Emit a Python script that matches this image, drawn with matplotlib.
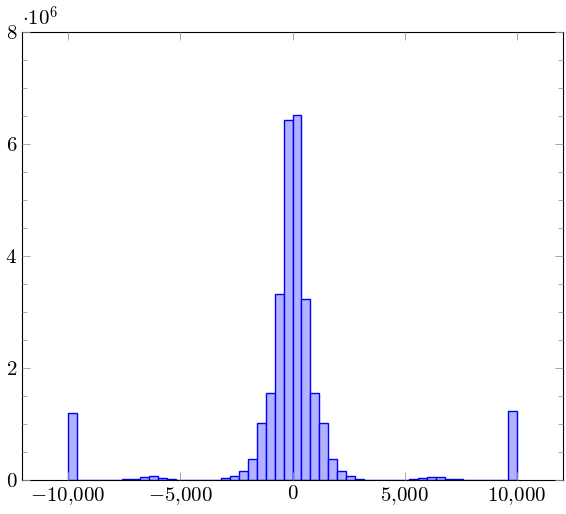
import numpy as np
import matplotlib
matplotlib.use("Agg")
import matplotlib.pyplot as plt
from matplotlib.ticker import MultipleLocator

plt.rcParams['mathtext.fontset'] = 'cm'
plt.rcParams['font.family'] = 'serif'
plt.rcParams['font.serif'] = ['cmr10', 'DejaVu Serif']

bin_edges = np.linspace(-10000, 10000, 51)
# counts in millions, one per bin (left to right)
counts = [1.19, 0, 0, 0, 0, 0, 0.02, 0.02, 0.05, 0.065,
          0.04, 0.025, 0.005, 0, 0, 0, 0.005, 0.03, 0.07, 0.16,
          0.37, 1.02, 1.55, 3.33, 6.43, 6.52, 3.24, 1.56, 1.02, 0.375,
          0.16, 0.075, 0.025, 0.005, 0, 0, 0, 0, 0.01, 0.03,
          0.06, 0.045, 0.025, 0.02, 0, 0, 0, 0, 0, 1.23]
xticks = [-10000, -5000, 0, 5000, 10000]
xlabels = [r'$-10{,}000$', r'$-5{,}000$', r'$0$', r'$5{,}000$', r'$10{,}000$']
yticks = [0, 2, 4, 6, 8]

fig = plt.figure(figsize=(5.66, 5.14), dpi=100)
ax = fig.add_axes([22/566, 1-480/514, (563-22)/566, (480-32)/514])
vals = np.array(counts) * 1e6
ax.bar(bin_edges[:-1], vals, width=np.diff(bin_edges), align='edge',
       facecolor='#b2b2ff', edgecolor='blue', linewidth=1.0)
ax.set_xlim(-12050, 12050)
ax.set_ylim(0, 8e6)
ax.set_xticks(xticks)
ax.set_xticklabels(xlabels)
ax.set_yticks([v * 1e6 for v in yticks])
ax.set_yticklabels([rf'${v}$' for v in yticks])
ax.yaxis.set_minor_locator(MultipleLocator(0.5e6))
ax.tick_params(which='both', direction='in', top=True, right=True, color='#999999',
               labelsize=15, width=0.6)
ax.tick_params(which='major', length=6)
ax.tick_params(which='minor', length=3.5)
for s in ax.spines.values():
    s.set_linewidth(0.8)
ax.set_axisbelow(False)
ax.text(0.0, 1.005, r'$\cdot 10^{6}$', transform=ax.transAxes, fontsize=15,
        ha='left', va='bottom')
fig.savefig('out.png', dpi=100)
